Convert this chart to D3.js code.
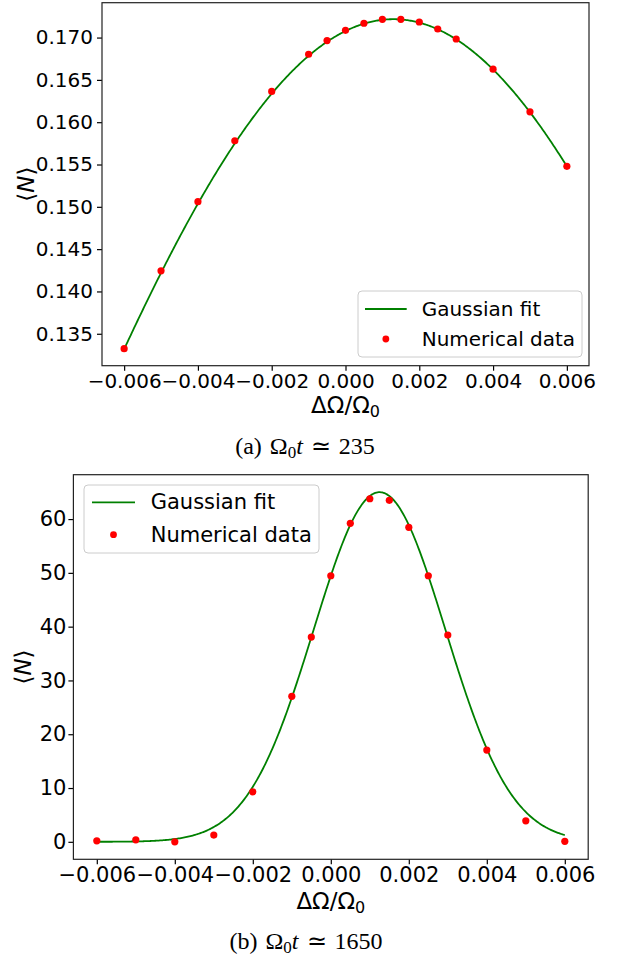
<!DOCTYPE html>
<html>
<head>
<meta charset="utf-8">
<script src="https://cdn.jsdelivr.net/npm/d3@7"></script>
<style>
  body { margin: 0; background: #fff; }
  svg { display: block; }
</style>
</head>
<body>
<svg id="fig" width="623" height="961"></svg>
<script>
// Detuning values (ΔΩ/Ω0) at which the occupation was computed
const detuning = [-0.006, -0.005, -0.004, -0.003, -0.002, -0.001, -0.0005, 0, 0.0005,
                  0.001, 0.0015, 0.002, 0.0025, 0.003, 0.004, 0.005, 0.006];

// Mean occupation <N> at Ω0 t ≈ 235
const occupationA = [0.13324, 0.14244, 0.15061, 0.15781, 0.16363, 0.16803, 0.16965, 0.17086,
                     0.17169, 0.17216, 0.17216, 0.17184, 0.17101, 0.16983, 0.16626, 0.16123, 0.15479];

// Mean occupation <N> at Ω0 t ≈ 1650
const occupationB = [0.19, 0.37, 0.0, 1.25, 9.3, 27.04, 38.06, 49.46, 59.2,
                     63.78, 63.48, 58.46, 49.46, 38.43, 17.05, 3.9, 0.1];

// Gaussian fit parameters: [amplitude, centre, standard deviation]
const fitA = [0.17217, 0.0013, 0.010186];
const fitB = [65.0, 0.00125, 0.00169];

// Axis ticks
const xTicks = [-0.006, -0.004, -0.002, 0, 0.002, 0.004, 0.006];
const yTicksA = [0.135, 0.140, 0.145, 0.150, 0.155, 0.160, 0.165, 0.170];
const yTicksB = [0, 10, 20, 30, 40, 50, 60];

const FONT = "DejaVu Sans";
const svg = d3.select("#fig");

function gaussian(p, x) {
  return p[0] * Math.exp(-((x - p[1]) ** 2) / (2 * p[2] * p[2]));
}

function padded(lo, hi) {
  const m = (hi - lo) * 0.05;
  return [lo - m, hi + m];
}

function drawPanel(cfg) {
  const { box, values, fit, yTicks, yFormat, fontSize, legend, caption } = cfg;
  const g = svg.append("g");

  const xRange = d3.extent(detuning);
  const fitX = d3.range(0, 401).map(i => xRange[0] + (xRange[1] - xRange[0]) * i / 400);
  const fitPts = fitX.map(x => [x, gaussian(fit, x)]);

  const allY = values.concat(fitPts.map(d => d[1]));
  const x = d3.scaleLinear().domain(padded(xRange[0], xRange[1])).range([box.x0, box.x1]);
  const y = d3.scaleLinear().domain(padded(d3.min(allY), d3.max(allY))).range([box.y1, box.y0]);

  // Axes
  const xAxis = d3.axisBottom(x).tickValues(xTicks).tickFormat(d3.format(".3f"))
    .tickSize(5).tickPadding(3);
  const yAxis = d3.axisLeft(y).tickValues(yTicks).tickFormat(d3.format(yFormat))
    .tickSize(5).tickPadding(cfg.yPad);

  const gx = g.append("g").attr("transform", `translate(0,${box.y1})`).call(xAxis);
  const gy = g.append("g").attr("transform", `translate(${box.x0},0)`).call(yAxis);
  [gx, gy].forEach(a => {
    a.select(".domain").remove();
    a.selectAll(".tick line").attr("stroke", "#000").attr("stroke-width", 1.2);
    a.selectAll(".tick text").attr("fill", "#000")
      .style("font-family", FONT).style("font-size", fontSize + "px");
  });

  // Fit curve
  g.append("path")
    .datum(fitPts)
    .attr("fill", "none")
    .attr("stroke", "#008000")
    .attr("stroke-width", 1.8)
    .attr("d", d3.line().x(d => x(d[0])).y(d => y(d[1])));

  // Numerical data points
  g.append("g").selectAll("circle")
    .data(detuning.map((d, i) => [d, values[i]]))
    .join("circle")
    .attr("cx", d => x(d[0]))
    .attr("cy", d => y(d[1]))
    .attr("r", 3.6)
    .attr("fill", "#ff0000");

  // Frame
  g.append("rect")
    .attr("x", box.x0).attr("y", box.y0)
    .attr("width", box.x1 - box.x0).attr("height", box.y1 - box.y0)
    .attr("fill", "none").attr("stroke", "#222").attr("stroke-width", 1.2);

  // x label
  const xl = g.append("text")
    .attr("x", (box.x0 + box.x1) / 2).attr("y", cfg.xLabelY)
    .attr("text-anchor", "middle")
    .style("font-family", FONT).style("font-size", "23px");
  xl.append("tspan").text("ΔΩ/Ω");
  xl.append("tspan").attr("dy", 4).style("font-size", "16px").text("0");

  // y label
  const yl = g.append("text")
    .attr("transform", `translate(${cfg.yLabelX},${(box.y0 + box.y1) / 2}) rotate(-90)`)
    .attr("text-anchor", "middle")
    .attr("dominant-baseline", "central")
    .style("font-family", FONT).style("font-size", "23px");
  yl.append("tspan").text("⟨");
  yl.append("tspan").style("font-style", "italic").text("N");
  yl.append("tspan").text("⟩");

  // Legend
  const lg = g.append("g");
  lg.append("rect")
    .attr("x", legend.x0).attr("y", legend.y0)
    .attr("width", legend.x1 - legend.x0).attr("height", legend.y1 - legend.y0)
    .attr("rx", 4)
    .attr("fill", "#fff").attr("fill-opacity", 0.8)
    .attr("stroke", "#cccccc").attr("stroke-width", 1);
  lg.append("line")
    .attr("x1", legend.lineX0).attr("x2", legend.lineX1)
    .attr("y1", legend.row1).attr("y2", legend.row1)
    .attr("stroke", "#008000").attr("stroke-width", 1.8);
  lg.append("circle")
    .attr("cx", (legend.lineX0 + legend.lineX1) / 2).attr("cy", legend.row2)
    .attr("r", 3.4).attr("fill", "#ff0000");
  [["Gaussian fit", legend.row1], ["Numerical data", legend.row2]].forEach(([t, ry]) => {
    lg.append("text")
      .attr("x", legend.textX).attr("y", ry)
      .attr("dominant-baseline", "central")
      .style("font-family", FONT).style("font-size", legend.fontSize + "px")
      .text(t);
  });

  // Caption
  const cap = svg.append("text")
    .attr("x", caption.x).attr("y", caption.y)
    .attr("text-anchor", "middle")
    .style("font-family", "Liberation Serif")
    .style("font-size", "24px")
    .style("word-spacing", "2px");
  cap.append("tspan").text(caption.tag + " Ω");
  cap.append("tspan").attr("dy", 4).style("font-size", "17px").text("0");
  cap.append("tspan").attr("dy", -4).style("font-style", "italic").text("t");
  cap.append("tspan").text(" ≃ " + caption.value);
}

drawPanel({
  box: { x0: 102, x1: 589, y0: 2.7, y1: 365.7 },
  values: occupationA,
  fit: fitA,
  yTicks: yTicksA,
  yFormat: ".3f",
  fontSize: 20,
  yPad: 4,
  xLabelY: 413,
  yLabelX: 26,
  legend: { x0: 358, x1: 582, y0: 291, y1: 357, lineX0: 365, lineX1: 406.7,
            textX: 421.7, row1: 309, row2: 339, fontSize: 20 },
  caption: { x: 305, y: 454, tag: "(a)", value: "235" }
});

drawPanel({
  box: { x0: 73.4, x1: 588.2, y0: 474.7, y1: 859.3 },
  values: occupationB,
  fit: fitB,
  yTicks: yTicksB,
  yFormat: "d",
  fontSize: 21,
  yPad: 2,
  xLabelY: 909,
  yLabelX: 23,
  legend: { x0: 84, x1: 319, y0: 485, y1: 553, lineX0: 92, lineX1: 135,
            textX: 150.7, row1: 502.3, row2: 534.7, fontSize: 21 },
  caption: { x: 306, y: 949, tag: "(b)", value: "1650" }
});
</script>
</body>
</html>
